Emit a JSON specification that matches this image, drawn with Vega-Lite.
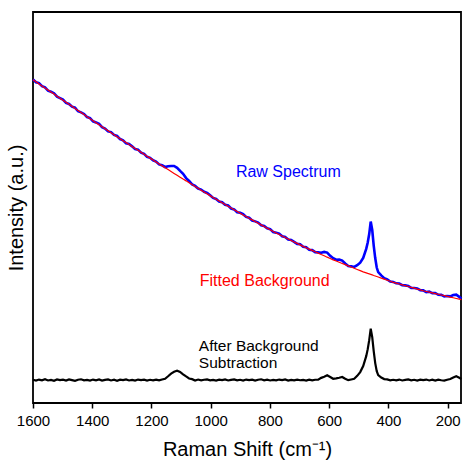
{
  "$schema": "https://vega.github.io/schema/vega-lite/v6.json",
  "width": 428,
  "height": 391,
  "autosize": {"type": "none"},
  "padding": {"left": 33, "top": 12, "right": 2, "bottom": 60},
  "background": "white",
  "config": {
    "font": "Liberation Sans",
    "view": {"stroke": "black", "strokeWidth": 1.8},
    "axis": {"grid": false}
  },
  "layer": [
    {
      "data": {"values": [
        {"x":1600,"raw":324.5,"bg":324.0,"sub":23.3},
        {"x":1589.9,"raw":321.6,"bg":322.0,"sub":22.4},
        {"x":1579.7,"raw":320.7,"bg":319.9,"sub":23.5},
        {"x":1569.6,"raw":317.7,"bg":317.9,"sub":22.8},
        {"x":1559.5,"raw":316.4,"bg":315.8,"sub":23.9},
        {"x":1549.3,"raw":313.1,"bg":313.8,"sub":22.6},
        {"x":1539.2,"raw":312.0,"bg":311.7,"sub":23.2},
        {"x":1529.1,"raw":310.6,"bg":309.7,"sub":22.2},
        {"x":1518.9,"raw":307.1,"bg":307.6,"sub":23.6},
        {"x":1508.8,"raw":305.7,"bg":305.6,"sub":22.9},
        {"x":1498.7,"raw":304.2,"bg":303.5,"sub":23.4},
        {"x":1488.5,"raw":300.9,"bg":301.5,"sub":22.5},
        {"x":1478.4,"raw":299.8,"bg":299.4,"sub":23.7},
        {"x":1468.2,"raw":297.1,"bg":297.4,"sub":23.0},
        {"x":1458.1,"raw":296.1,"bg":295.3,"sub":22.3},
        {"x":1448.0,"raw":292.5,"bg":293.3,"sub":23.3},
        {"x":1437.8,"raw":291.4,"bg":291.2,"sub":23.8},
        {"x":1427.7,"raw":289.8,"bg":289.2,"sub":22.7},
        {"x":1417.6,"raw":286.7,"bg":287.1,"sub":23.1},
        {"x":1407.4,"raw":285.6,"bg":285.1,"sub":22.4},
        {"x":1397.3,"raw":282.4,"bg":283.0,"sub":23.5},
        {"x":1387.2,"raw":281.3,"bg":281.0,"sub":22.8},
        {"x":1377.0,"raw":279.9,"bg":279.0,"sub":23.6},
        {"x":1366.9,"raw":276.5,"bg":277.0,"sub":22.5},
        {"x":1356.8,"raw":275.2,"bg":275.0,"sub":23.2},
        {"x":1346.6,"raw":272.3,"bg":273.0,"sub":23.7},
        {"x":1336.5,"raw":271.6,"bg":271.0,"sub":22.6},
        {"x":1326.4,"raw":268.8,"bg":269.0,"sub":23.3},
        {"x":1316.2,"raw":267.7,"bg":267.0,"sub":22.3},
        {"x":1306.1,"raw":264.6,"bg":265.0,"sub":23.4},
        {"x":1295.9,"raw":263.4,"bg":263.0,"sub":22.9},
        {"x":1285.8,"raw":260.3,"bg":261.1,"sub":23.6},
        {"x":1275.7,"raw":259.6,"bg":259.1,"sub":22.6},
        {"x":1265.5,"raw":257.3,"bg":257.2,"sub":23.2},
        {"x":1255.4,"raw":254.7,"bg":255.2,"sub":22.4},
        {"x":1245.3,"raw":254.0,"bg":253.3,"sub":23.5},
        {"x":1235.1,"raw":251.0,"bg":251.3,"sub":23.0},
        {"x":1225.0,"raw":249.8,"bg":249.4,"sub":23.4},
        {"x":1214.9,"raw":246.8,"bg":247.4,"sub":22.5},
        {"x":1204.7,"raw":245.8,"bg":245.5,"sub":23.3},
        {"x":1194.6,"raw":243.3,"bg":243.5,"sub":22.8},
        {"x":1184.5,"raw":242.1,"bg":241.6,"sub":23.4},
        {"x":1174.3,"raw":239.2,"bg":239.7,"sub":22.7},
        {"x":1164.2,"raw":238.3,"bg":237.8,"sub":23.6},
        {"x":1154.1,"raw":236.6,"bg":235.9,"sub":24.3},
        {"x":1143.9,"raw":237.3,"bg":234.0,"sub":26.8},
        {"x":1133.8,"raw":237.6,"bg":232.1,"sub":29.5},
        {"x":1123.7,"raw":237.6,"bg":230.2,"sub":31.3},
        {"x":1113.5,"raw":235.8,"bg":228.3,"sub":32.3},
        {"x":1103.4,"raw":232.7,"bg":226.4,"sub":31.2},
        {"x":1093.3,"raw":229.8,"bg":224.5,"sub":28.8},
        {"x":1083.1,"raw":225.5,"bg":222.7,"sub":26.6},
        {"x":1073.0,"raw":222.6,"bg":220.8,"sub":24.6},
        {"x":1062.8,"raw":219.1,"bg":219.0,"sub":23.9},
        {"x":1052.7,"raw":217.6,"bg":217.1,"sub":22.6},
        {"x":1042.6,"raw":215.0,"bg":215.3,"sub":23.5},
        {"x":1032.4,"raw":214.0,"bg":213.4,"sub":22.7},
        {"x":1022.3,"raw":211.8,"bg":211.6,"sub":23.3},
        {"x":1012.2,"raw":210.6,"bg":209.7,"sub":23.6},
        {"x":1002.0,"raw":208.3,"bg":207.9,"sub":22.8},
        {"x":991.9,"raw":205.6,"bg":206.0,"sub":23.2},
        {"x":981.8,"raw":204.6,"bg":204.3,"sub":22.5},
        {"x":971.6,"raw":201.9,"bg":202.5,"sub":23.4},
        {"x":961.5,"raw":201.3,"bg":200.8,"sub":22.9},
        {"x":951.4,"raw":198.8,"bg":199.0,"sub":23.6},
        {"x":941.2,"raw":198.0,"bg":197.3,"sub":22.6},
        {"x":931.1,"raw":195.0,"bg":195.5,"sub":23.2},
        {"x":921.0,"raw":194.1,"bg":193.8,"sub":23.7},
        {"x":910.8,"raw":191.3,"bg":192.0,"sub":22.7},
        {"x":900.7,"raw":190.7,"bg":190.3,"sub":23.3},
        {"x":890.6,"raw":189.3,"bg":188.5,"sub":22.4},
        {"x":880.4,"raw":186.6,"bg":186.9,"sub":23.5},
        {"x":870.3,"raw":185.7,"bg":185.2,"sub":23.0},
        {"x":860.1,"raw":183.0,"bg":183.6,"sub":23.4},
        {"x":850.0,"raw":182.1,"bg":181.9,"sub":22.5},
        {"x":839.9,"raw":180.9,"bg":180.3,"sub":23.3},
        {"x":829.7,"raw":178.2,"bg":178.6,"sub":23.8},
        {"x":819.6,"raw":177.5,"bg":177.0,"sub":22.8},
        {"x":809.5,"raw":175.1,"bg":175.3,"sub":23.4},
        {"x":799.3,"raw":174.3,"bg":173.7,"sub":22.6},
        {"x":789.2,"raw":171.5,"bg":172.0,"sub":23.2},
        {"x":779.1,"raw":170.8,"bg":170.5,"sub":22.7},
        {"x":768.9,"raw":169.8,"bg":169.0,"sub":23.5},
        {"x":758.8,"raw":167.2,"bg":167.5,"sub":22.9},
        {"x":748.7,"raw":166.4,"bg":166.0,"sub":23.6},
        {"x":738.5,"raw":163.9,"bg":164.5,"sub":22.5},
        {"x":728.4,"raw":163.5,"bg":163.0,"sub":23.2},
        {"x":718.3,"raw":161.6,"bg":161.5,"sub":22.7},
        {"x":708.1,"raw":159.5,"bg":160.0,"sub":23.4},
        {"x":698.0,"raw":159.1,"bg":158.5,"sub":22.8},
        {"x":687.9,"raw":156.7,"bg":157.0,"sub":23.1},
        {"x":677.7,"raw":156.1,"bg":155.7,"sub":22.5},
        {"x":667.6,"raw":153.7,"bg":154.3,"sub":23.4},
        {"x":657.4,"raw":153.3,"bg":153.0,"sub":22.8},
        {"x":647.3,"raw":151.2,"bg":151.6,"sub":23.3},
        {"x":637.2,"raw":151.0,"bg":150.3,"sub":23.4},
        {"x":627.0,"raw":150.6,"bg":148.9,"sub":25.2},
        {"x":616.9,"raw":151.5,"bg":147.6,"sub":26.3},
        {"x":606.8,"raw":150.8,"bg":146.2,"sub":27.8},
        {"x":596.6,"raw":147.6,"bg":144.9,"sub":26.1},
        {"x":586.5,"raw":145.2,"bg":143.5,"sub":24.3},
        {"x":576.4,"raw":143.6,"bg":142.3,"sub":24.7},
        {"x":566.2,"raw":143.9,"bg":141.1,"sub":25.3},
        {"x":556.1,"raw":142.8,"bg":139.9,"sub":26.1},
        {"x":546.0,"raw":139.9,"bg":138.7,"sub":24.3},
        {"x":535.8,"raw":137.4,"bg":137.5,"sub":22.9},
        {"x":525.7,"raw":137.0,"bg":136.3,"sub":23.6},
        {"x":515.6,"raw":136.4,"bg":135.1,"sub":24.3},
        {"x":505.4,"raw":138.1,"bg":133.9,"sub":27.2},
        {"x":495.3,"raw":140.7,"bg":132.7,"sub":31.0},
        {"x":485.2,"raw":145.5,"bg":131.5,"sub":37.0},
        {"x":475.0,"raw":154.5,"bg":130.5,"sub":47.0},
        {"x":469.9,"raw":160.9,"bg":129.9,"sub":54.0},
        {"x":464.9,"raw":169.4,"bg":129.4,"sub":63.0},
        {"x":459.8,"raw":181.9,"bg":128.9,"sub":74.5},
        {"x":454.7,"raw":173.4,"bg":128.4,"sub":66.0},
        {"x":449.7,"raw":157.8,"bg":127.8,"sub":52.0},
        {"x":444.6,"raw":145.3,"bg":127.3,"sub":40.0},
        {"x":439.5,"raw":135.8,"bg":126.8,"sub":32.0},
        {"x":434.5,"raw":131.3,"bg":126.3,"sub":28.0},
        {"x":424.3,"raw":127.9,"bg":125.2,"sub":25.5},
        {"x":414.2,"raw":125.2,"bg":124.2,"sub":24.0},
        {"x":404.1,"raw":123.9,"bg":123.1,"sub":23.7},
        {"x":393.9,"raw":121.8,"bg":122.1,"sub":22.7},
        {"x":383.8,"raw":121.4,"bg":121.0,"sub":23.3},
        {"x":373.7,"raw":120.0,"bg":120.2,"sub":22.8},
        {"x":363.5,"raw":119.8,"bg":119.3,"sub":23.5},
        {"x":353.4,"raw":118.1,"bg":118.5,"sub":22.6},
        {"x":343.3,"raw":117.9,"bg":117.6,"sub":23.2},
        {"x":333.1,"raw":117.4,"bg":116.8,"sub":23.6},
        {"x":323.0,"raw":115.4,"bg":115.9,"sub":22.7},
        {"x":312.9,"raw":115.3,"bg":115.1,"sub":23.3},
        {"x":302.7,"raw":114.9,"bg":114.2,"sub":22.5},
        {"x":292.6,"raw":113.1,"bg":113.4,"sub":23.4},
        {"x":282.5,"raw":112.9,"bg":112.5,"sub":23.0},
        {"x":272.3,"raw":111.2,"bg":111.8,"sub":23.5},
        {"x":262.2,"raw":111.6,"bg":111.1,"sub":22.6},
        {"x":252.0,"raw":110.2,"bg":110.4,"sub":23.3},
        {"x":241.9,"raw":110.3,"bg":109.7,"sub":22.4},
        {"x":231.8,"raw":108.5,"bg":109.0,"sub":23.4},
        {"x":221.6,"raw":108.4,"bg":108.3,"sub":22.8},
        {"x":211.5,"raw":106.9,"bg":107.6,"sub":22.4},
        {"x":201.4,"raw":107.2,"bg":106.9,"sub":23.3},
        {"x":191.2,"raw":106.9,"bg":106.2,"sub":24.0},
        {"x":181.1,"raw":108.2,"bg":105.5,"sub":25.5},
        {"x":171.0,"raw":108.6,"bg":104.8,"sub":26.8},
        {"x":160.8,"raw":106.4,"bg":104.1,"sub":25.3},
        {"x":153.7,"raw":104.6,"bg":103.6,"sub":24.0}
      ]},
      "encoding": {
        "x": {
          "field": "x", "type": "quantitative",
          "scale": {"domain": [155, 1600], "reverse": true, "nice": false, "zero": false},
          "axis": {
            "title": "Raman Shift (cm⁻¹)",
            "values": [1600,1500,1400,1300,1200,1100,1000,900,800,700,600,500,400,300,200],
            "labelExpr": "datum.value % 200 == 0 ? datum.label : ''",
            "format": "d",
            "domain": false,
            "ticks": true, "tickColor": "black", "tickWidth": 1.5, "tickSize": 5,
            "labelFontSize": 15, "labelColor": "black", "labelPadding": 5, "labelFont": "Liberation Sans",
            "titleFontSize": 20, "titleFontWeight": "normal", "titleColor": "black", "titlePadding": 11, "titleFont": "Liberation Sans",
            "labelFlush": false, "labelOverlap": false
          }
        },
        "y": {
          "field": "raw", "type": "quantitative",
          "scale": {"domain": [0, 392], "nice": false, "zero": false},
          "axis": {"title": "Intensity (a.u.)", "labels": false, "ticks": false, "domain": false,
                   "titleFontSize": 20, "titleFontWeight": "normal", "titleColor": "black", "titlePadding": 7, "titleFont": "Liberation Sans"}
        }
      },
      "layer": [
        {"mark": {"type": "line", "color": "#0000ff", "strokeWidth": 2.6}},
        {"mark": {"type": "line", "color": "#ff0000", "strokeWidth": 1.2},
         "encoding": {"y": {"field": "bg", "type": "quantitative"}}},
        {"mark": {"type": "line", "color": "black", "strokeWidth": 2.2},
         "encoding": {"y": {"field": "sub", "type": "quantitative"}}}
      ]
    },
    {
      "data": {"values": [{}]},
      "mark": {"type": "text", "text": "Raw Spectrum", "color": "#0000ff", "fontSize": 16, "align": "left", "baseline": "middle", "font": "Liberation Sans"},
      "encoding": {"x": {"datum": 915, "type": "quantitative"}, "y": {"datum": 232, "type": "quantitative"}}
    },
    {
      "data": {"values": [{}]},
      "mark": {"type": "text", "text": "Fitted Background", "color": "#ff0000", "fontSize": 16, "align": "left", "baseline": "middle", "font": "Liberation Sans"},
      "encoding": {"x": {"datum": 1037, "type": "quantitative"}, "y": {"datum": 122, "type": "quantitative"}}
    },
    {
      "data": {"values": [{}]},
      "mark": {"type": "text", "text": ["After Background", "Subtraction"], "color": "black", "fontSize": 15.5, "lineHeight": 16.5, "align": "left", "baseline": "middle", "font": "Liberation Sans"},
      "encoding": {"x": {"datum": 1040, "type": "quantitative"}, "y": {"datum": 57, "type": "quantitative"}}
    }
  ]
}
